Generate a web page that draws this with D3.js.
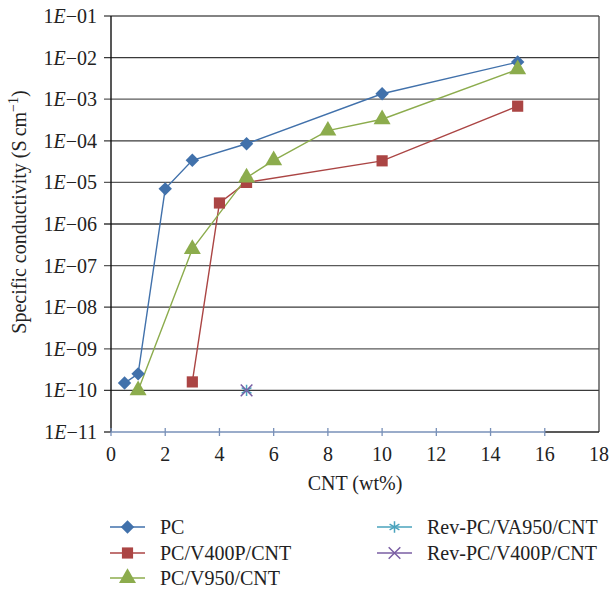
<!DOCTYPE html>
<html>
<head>
<meta charset="utf-8">
<script src="https://cdn.jsdelivr.net/npm/d3@7"></script>
<style>
  body { margin: 0; background: #fff; }
  text { font-family: "Liberation Serif", "DejaVu Serif", serif; }
</style>
</head>
<body>
<div id="chart"></div>
<script>
// values
const pcX = [0.5, 1, 2, 3, 5, 10, 15];
const pcY = [1.5e-10, 2.5e-10, 7e-6, 3.4e-5, 8.5e-5, 1.35e-3, 7.8e-3];
const v400X = [3, 4, 5, 10, 15];
const v400Y = [1.6e-10, 3.2e-6, 1.0e-5, 3.3e-5, 6.8e-4];
const v950X = [1, 3, 5, 6, 8, 10, 15];
const v950Y = [1e-10, 2.5e-7, 1.3e-5, 3.4e-5, 1.75e-4, 3.3e-4, 5.2e-3];
const revVA950X = [5];
const revVA950Y = [1e-10];
const revV400X = [5];
const revV400Y = [1e-10];

const xTicks = [0, 2, 4, 6, 8, 10, 12, 14, 16, 18];
const yExps = [-1, -2, -3, -4, -5, -6, -7, -8, -9, -10, -11];

const series = [
  { name: "PC", x: pcX, y: pcY, color: "#4171ab", symbol: d3.symbolDiamond2, size: 115 },
  { name: "PC/V400P/CNT", x: v400X, y: v400Y, color: "#ab4544", symbol: d3.symbolSquare, size: 125 },
  { name: "PC/V950/CNT", x: v950X, y: v950Y, color: "#8cac4d", symbol: d3.symbolTriangle, size: 125 },
  { name: "Rev-PC/VA950/CNT", x: revVA950X, y: revVA950Y, color: "#4aa3bd", symbol: d3.symbolAsterisk, size: 90 },
  { name: "Rev-PC/V400P/CNT", x: revV400X, y: revV400Y, color: "#7a5ea3", symbol: d3.symbolX, size: 90 }
];

const width = 609, height = 590;
const fs = 20;
const svg = d3.select("#chart").append("svg").attr("width", width).attr("height", height);

const x = d3.scaleLinear().domain([0, 18]).range([111, 599]);
const y = d3.scaleLog().domain([1e-11, 1e-1]).range([432, 16]);

// grid lines
yExps.forEach((e, i) => {
  if (e === -11) return;
  svg.append("line").attr("x1", 104).attr("x2", 599)
    .attr("y1", y(Math.pow(10, e))).attr("y2", y(Math.pow(10, e)))
    .attr("stroke", i % 2 === 0 ? "#5a5a5a" : "#3a3a3a").attr("stroke-width", 1.3);
});

// right frame and bottom right piece
svg.append("line").attr("x1", 599).attr("x2", 599).attr("y1", 16).attr("y2", 432)
  .attr("stroke", "#444").attr("stroke-width", 1.3);
svg.append("line").attr("x1", x(16)).attr("x2", 599).attr("y1", 432).attr("y2", 432)
  .attr("stroke", "#222").attr("stroke-width", 1.3);
svg.append("line").attr("x1", 104).attr("x2", 111).attr("y1", 432).attr("y2", 432)
  .attr("stroke", "#222").attr("stroke-width", 1.3);

// left axis
svg.append("line").attr("x1", 111).attr("x2", 111).attr("y1", 16).attr("y2", 432)
  .attr("stroke", "#111").attr("stroke-width", 1.4);

// x axis line (blue) with crossing ticks
svg.append("line").attr("x1", x(0)).attr("x2", x(16)).attr("y1", 432).attr("y2", 432)
  .attr("stroke", "#7890b8").attr("stroke-width", 1.6);
xTicks.filter(t => t <= 16).forEach(t => {
  svg.append("line").attr("x1", x(t)).attr("x2", x(t)).attr("y1", 428).attr("y2", 436)
    .attr("stroke", "#7890b8").attr("stroke-width", 1.3);
});

// y tick labels
yExps.forEach(e => {
  const t = svg.append("text").attr("x", 97).attr("y", y(Math.pow(10, e)) + 7)
    .attr("text-anchor", "end").attr("font-size", fs).attr("fill", "#222");
  t.append("tspan").text("1");
  t.append("tspan").attr("font-style", "italic").text("E");
  t.append("tspan").text("\u2212" + String(-e).padStart(2, "0"));
});

// x tick labels
xTicks.forEach(t => {
  svg.append("text").attr("x", x(t)).attr("y", 461).attr("text-anchor", "middle")
    .attr("font-size", fs).attr("fill", "#222").text(t);
});

// axis titles
svg.append("text").attr("x", x(9)).attr("y", 490).attr("text-anchor", "middle")
  .attr("font-size", fs).attr("fill", "#222").text("CNT (wt%)");
const yt = svg.append("text").attr("transform", "translate(26,212) rotate(-90)")
  .attr("text-anchor", "middle").attr("font-size", fs).attr("fill", "#222");
yt.append("tspan").text("Specific conductivity (S\u2009cm");
yt.append("tspan").attr("font-size", 14).attr("dy", -8).text("\u22121");
yt.append("tspan").attr("dy", 8).text(")");

// series
const line = d3.line().x(d => x(d[0])).y(d => y(d[1]));
series.forEach(s => {
  const pts = s.x.map((v, i) => [v, s.y[i]]);
  if (pts.length > 1) {
    svg.append("path").datum(pts).attr("fill", "none").attr("stroke", s.color)
      .attr("stroke-width", 1.4).attr("d", line);
  }
});
series.forEach(s => {
  const pts = s.x.map((v, i) => [v, s.y[i]]);
  const stroked = s.symbol === d3.symbolAsterisk || s.symbol === d3.symbolX;
  svg.selectAll(null).data(pts).enter().append("path")
    .attr("transform", d => `translate(${x(d[0])},${y(d[1])})`)
    .attr("d", d3.symbol(s.symbol, s.size))
    .attr("fill", stroked ? "none" : s.color)
    .attr("stroke", s.color).attr("stroke-width", stroked ? 1.5 : 0);
});

// legend
const legendPos = [
  { lx: 110, ly: 527 }, { lx: 110, ly: 553 }, { lx: 110, ly: 578 },
  { lx: 377, ly: 527 }, { lx: 377, ly: 553 }
];
series.forEach((s, i) => {
  const p = legendPos[i];
  const g = svg.append("g");
  g.append("line").attr("x1", p.lx).attr("x2", p.lx + 35).attr("y1", p.ly).attr("y2", p.ly)
    .attr("stroke", s.color).attr("stroke-width", 1.6);
  const stroked = s.symbol === d3.symbolAsterisk || s.symbol === d3.symbolX;
  g.append("path").attr("transform", `translate(${p.lx + 17.5},${p.ly})`)
    .attr("d", d3.symbol(s.symbol, s.size))
    .attr("fill", stroked ? "none" : s.color)
    .attr("stroke", s.color).attr("stroke-width", stroked ? 1.5 : 0);
  g.append("text").attr("x", p.lx + 50).attr("y", p.ly + 7).attr("font-size", fs)
    .attr("fill", "#222").text(s.name);
});
</script>
</body>
</html>
